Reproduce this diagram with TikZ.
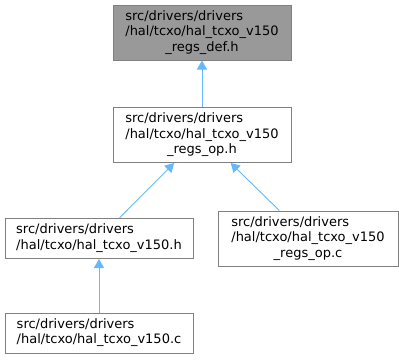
\documentclass[tikz,border=0pt]{standalone}
\usepackage{fontspec}
\setmainfont{DejaVu Sans}
\usetikzlibrary{arrows.meta}
\definecolor{edgeblue}{HTML}{63B8FF}
\definecolor{boxline}{HTML}{808080}
\definecolor{boxfill}{HTML}{999999}
\newcommand{\fname}[3]{\begin{tabular}{@{}l@{}}#1\\#2\\\multicolumn{1}{@{}c@{}}{#3}\end{tabular}}
\newcommand{\fnametwo}[2]{\begin{tabular}{@{}l@{}}#1\\#2\end{tabular}}
\begin{document}
\begin{tikzpicture}[
  x=1pt, y=-1pt,
  file/.style={draw=boxline, fill=white, line width=1pt, inner sep=0pt, minimum height=55pt,
    font=\fontsize{13}{15.5}\selectfont},
  dep/.style={{Triangle[length=9pt,width=10pt]}-, draw=edgeblue, line width=0.9pt}
]
\useasboundingbox (0,0) rectangle (399,359);
\node[file, fill=boxfill, minimum width=178pt] (regsdef) at (202,32.5) {\fname{src/drivers/drivers}{/hal/tcxo/hal\_tcxo\_v150}{\_regs\_def.h}};
\node[file, minimum width=178pt] (regsoph) at (202,135) {\fname{src/drivers/drivers}{/hal/tcxo/hal\_tcxo\_v150}{\_regs\_op.h}};
\node[file, minimum width=188pt, minimum height=40pt] (halh) at (99,238.5) {\fnametwo{src/drivers/drivers}{/hal/tcxo/hal\_tcxo\_v150.h}};
\node[file, minimum width=180pt] (regsopc) at (308,238.5) {\fname{src/drivers/drivers}{/hal/tcxo/hal\_tcxo\_v150}{\_regs\_op.c}};
\node[file, minimum width=188pt, minimum height=40pt] (halc) at (99,333) {\fnametwo{src/drivers/drivers}{/hal/tcxo/hal\_tcxo\_v150.c}};

\draw[dep] (regsdef) -- (regsoph);
\draw[dep] (regsoph) -- (halh);
\draw[dep] (regsoph) -- (regsopc);
\draw[dep] (halh) -- (halc);
\end{tikzpicture}
\end{document}
